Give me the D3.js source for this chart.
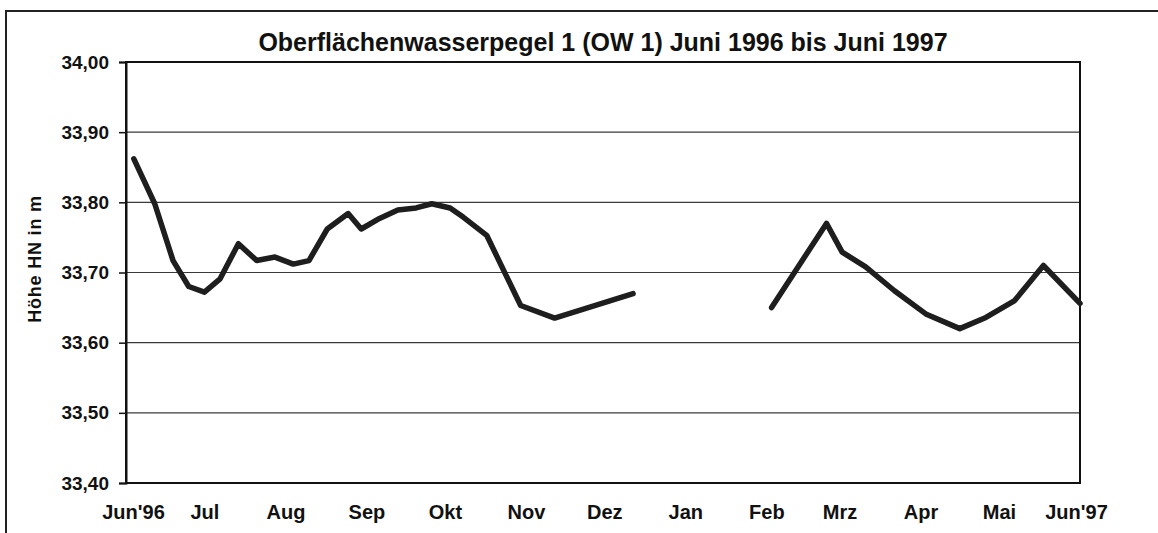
<!DOCTYPE html>
<html>
<head>
<meta charset="utf-8">
<script src="https://cdn.jsdelivr.net/npm/d3@7"></script>
<style>
  body { margin: 0; background: #fff; }
  svg { display: block; font-family: "Liberation Sans", Arial, sans-serif; }
</style>
</head>
<body>
<div id="chart"></div>
<script>
const dates = [
  "1996-06-04", "1996-06-12", "1996-06-19", "1996-06-25", "1996-07-01", "1996-07-07",
  "1996-07-14", "1996-07-21", "1996-07-28", "1996-08-04", "1996-08-10", "1996-08-17",
  "1996-08-25", "1996-08-30", "1996-09-06", "1996-09-13", "1996-09-20", "1996-09-26",
  "1996-10-03", "1996-10-08", "1996-10-17", "1996-10-30", "1996-11-12", "1996-12-12",
  "1997-01-15",
  "1997-02-03", "1997-02-24", "1997-03-02", "1997-03-11", "1997-03-22", "1997-04-03",
  "1997-04-16", "1997-04-26", "1997-05-07", "1997-05-18", "1997-06-01"
];
const levels = [
  33.862, 33.798, 33.717, 33.680, 33.672, 33.691,
  33.741, 33.717, 33.722, 33.712, 33.717, 33.762,
  33.784, 33.762, 33.777, 33.789, 33.792, 33.798,
  33.792, 33.779, 33.753, 33.653, 33.635, 33.670,
  null,
  33.650, 33.770, 33.729, 33.708, 33.674, 33.641,
  33.620, 33.636, 33.660, 33.710, 33.656
];
const monthLabels = ["Jun'96", "Jul", "Aug", "Sep", "Okt", "Nov", "Dez", "Jan", "Feb", "Mrz", "Apr", "Mai", "Jun'97"];
const yTicks = [33.4, 33.5, 33.6, 33.7, 33.8, 33.9, 34.0];

const title = "Oberflächenwasserpegel 1 (OW 1) Juni 1996 bis Juni 1997";
const yTitle = "Höhe HN in m";

const width = 1158, height = 533;
const margin = {top: 62, right: 78, bottom: 50, left: 126};

const parse = d3.timeParse("%Y-%m-%d");
const data = dates.map((d, i) => ({date: parse(d), value: levels[i]}));

const svg = d3.select("#chart").append("svg")
  .attr("width", width)
  .attr("height", height);

svg.append("rect").attr("width", width).attr("height", height).attr("fill", "#fff");

// äußerer Rahmen (rechts/unten außerhalb des Bildes)
svg.append("rect")
  .attr("x", 6).attr("y", 11)
  .attr("width", width + 20).attr("height", height + 20)
  .attr("fill", "none").attr("stroke", "#222").attr("stroke-width", 2);

const x = d3.scaleTime()
  .domain([parse("1996-06-01"), parse("1997-06-01")])
  .range([margin.left, width - margin.right]);

const y = d3.scaleLinear()
  .domain([33.4, 34.0])
  .range([height - margin.bottom, margin.top]);

// Gitternetzlinien
svg.append("g")
  .selectAll("line")
  .data(yTicks.slice(1, -1))
  .join("line")
  .attr("x1", x.range()[0]).attr("x2", x.range()[1])
  .attr("y1", d => y(d)).attr("y2", d => y(d))
  .attr("stroke", "#3a3a3a")
  .attr("stroke-width", 1.2);

// Zeichenfläche
svg.append("rect")
  .attr("x", x.range()[0]).attr("y", y.range()[1])
  .attr("width", x.range()[1] - x.range()[0])
  .attr("height", y.range()[0] - y.range()[1])
  .attr("fill", "none").attr("stroke", "#111").attr("stroke-width", 2);

// y-Achse
const yAxis = svg.append("g")
  .attr("transform", `translate(${margin.left},0)`)
  .call(d3.axisLeft(y)
    .tickValues(yTicks)
    .tickSize(7)
    .tickPadding(10)
    .tickFormat(d => d3.format(".2f")(d).replace(".", ",")));
yAxis.select(".domain").attr("stroke", "#111").attr("stroke-width", 2);
yAxis.selectAll(".tick line").attr("stroke", "#111").attr("stroke-width", 1.5);
yAxis.selectAll(".tick text")
  .attr("font-size", 19).attr("font-weight", "bold").attr("fill", "#111")
  .attr("font-family", "Liberation Sans, Arial, sans-serif");

// x-Achse: Monatsbeschriftung
const months = d3.timeMonth.range(parse("1996-06-01"), parse("1997-06-02"));
const xAxis = svg.append("g")
  .attr("transform", `translate(0,${height - margin.bottom})`)
  .call(d3.axisBottom(x)
    .tickValues(months)
    .tickSize(0)
    .tickPadding(22)
    .tickFormat((d, i) => monthLabels[i]));
xAxis.select(".domain").remove();
xAxis.selectAll(".tick text")
  .attr("font-size", 20).attr("font-weight", "bold").attr("fill", "#111")
  .attr("font-family", "Liberation Sans, Arial, sans-serif");
// erste Beschriftung etwas nach rechts, wie im Original
xAxis.selectAll(".tick text").filter((d, i) => i === 0).attr("dx", 7);
xAxis.selectAll(".tick text").filter((d, i) => i === months.length - 1).attr("dx", -4);

// Ganglinie
const line = d3.line()
  .defined(d => d.value !== null)
  .x(d => x(d.date))
  .y(d => y(d.value));

svg.append("path")
  .datum(data)
  .attr("d", line)
  .attr("fill", "none")
  .attr("stroke", "#1e1e1e")
  .attr("stroke-width", 5.5)
  .attr("stroke-linejoin", "round")
  .attr("stroke-linecap", "round");

// Titel
svg.append("text")
  .attr("x", 603).attr("y", 51)
  .attr("text-anchor", "middle")
  .attr("font-size", 25).attr("font-weight", "bold").attr("fill", "#111")
  .text(title);

// y-Achsentitel
svg.append("text")
  .attr("transform", "translate(41,259) rotate(-90)")
  .attr("text-anchor", "middle")
  .attr("font-size", 18).attr("font-weight", "bold").attr("fill", "#111")
  .attr("letter-spacing", 0.8)
  .text(yTitle);
</script>
</body>
</html>
